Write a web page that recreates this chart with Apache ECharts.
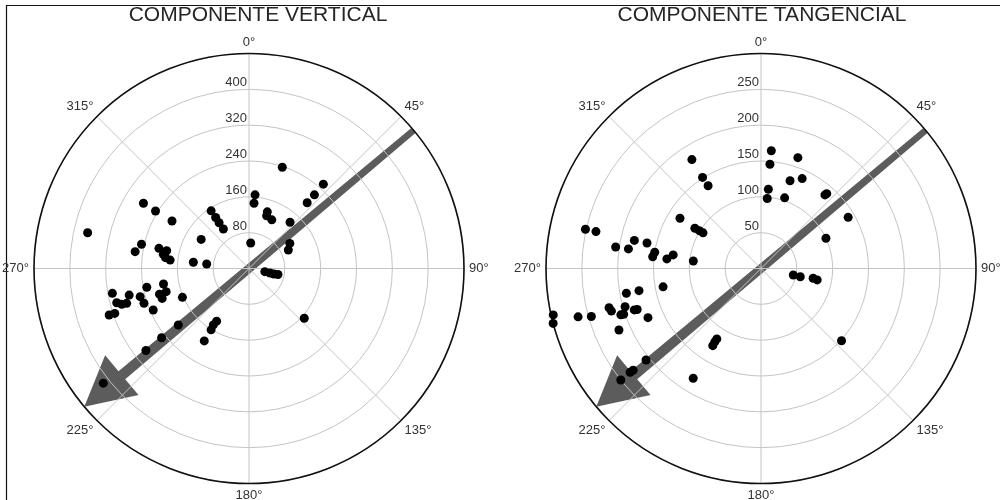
<!DOCTYPE html>
<html>
<head>
<meta charset="utf-8">
<script src="https://cdn.jsdelivr.net/npm/echarts@6/dist/echarts.min.js"></script>
<style>
  html, body { margin: 0; padding: 0; background: #ffffff; }
  #chart { width: 1005px; height: 500px; }
</style>
</head>
<body>
<div id="chart"></div>
<script>
// Titles of the two rose plots
const panelTitles = ['COMPONENTE VERTICAL', 'COMPONENTE TANGENCIAL'];

// Azimuth ring (degrees, clockwise from north)
const azimuthStep = 45;

// Radial scales: ring spacing and outer ring value
const vertRingStep = 80;
const vertRingMax = 480;
const tanRingStep = 50;
const tanRingMax = 300;

// Mean direction of the arrow drawn across each plot (degrees)
const arrowAzimuth = 230;

// COMPONENTE VERTICAL: magnitude and azimuth of each observation
const vertRadius = [
  369, 277, 245, 202, 246, 257, 206, 188, 194, 188,
  177, 125, 95, 125, 154, 136, 122, 105, 57, 165,
  146, 238, 133, 124, 120, 138, 196, 220, 251, 107,
  97, 36, 48, 57, 66, 310, 232, 194, 274, 305,
  295, 284, 251, 247, 208, 205, 192, 233, 162, 329,
  316, 202, 249, 294, 414, 138, 149, 161, 190, 166
];
const vertAzimuth = [
  282.5, 301.7, 301.6, 301.7, 282.7, 278.4, 282.6, 282.2, 279.4, 277.4,
  276.1, 276.4, 276.1, 301.3, 326.7, 326.8, 326.8, 327.0, 3.8, 4.7,
  4.4, 18.2, 17.9, 18.5, 25.1, 41.6, 41.5, 41.6, 41.4, 58.4,
  64.8, 101.3, 102.1, 102.4, 101.7, 259.7, 259.6, 259.7, 257.5, 255.5,
  254.3, 254.1, 255.5, 251.7, 254.0, 251.0, 254.4, 246.6, 246.6, 251.6,
  251.5, 231.4, 231.6, 231.5, 231.8, 211.6, 212.3, 211.7, 211.7, 132.0
];

// COMPONENTE TANGENCIAL: magnitude and azimuth of each observation
const tanRadius = [
  180, 151, 137, 165, 146, 163, 129, 138, 111, 98,
  104, 136, 139, 141, 100, 133, 108, 101, 95, 251,
  236, 205, 181, 187, 163, 150, 152, 132, 124, 95,
  46, 56, 74, 80, 151, 297, 300, 264, 246, 191,
  173, 139, 219, 217, 197, 206, 202, 186, 182, 172,
  216, 205, 228, 233, 250, 180, 116, 121, 127
];
const tanAzimuth = [
  327.6, 327.3, 327.4, 5.0, 4.9, 18.4, 18.3, 24.6, 5.3, 5.1,
  18.5, 41.0, 41.3, 59.6, 65.0, 301.8, 301.3, 301.5, 301.6, 282.6,
  282.6, 278.4, 282.5, 278.4, 282.6, 278.7, 276.2, 275.8, 278.8, 276.3,
  101.4, 101.9, 100.6, 101.5, 131.9, 257.4, 255.2, 255.2, 254.2, 259.6,
  259.7, 259.4, 255.5, 254.1, 254.3, 251.7, 251.6, 251.9, 251.7, 246.5,
  246.6, 231.5, 231.5, 231.6, 231.5, 211.7, 212.1, 212.2, 212.0
];

const FONT = '"Liberation Sans", Arial, Helvetica, sans-serif';
const GRID = '#c4c4c4';

const toPolar = (rs, as) => rs.map((r, i) => [r, as[i]]);

function angleAxisFor(idx) {
  return {
    polarIndex: idx,
    type: 'value',
    min: 0,
    max: 360,
    interval: azimuthStep,
    startAngle: 90,
    clockwise: true,
    z: 3,
    axisLine: { show: true, lineStyle: { color: '#111', width: 1.6 } },
    axisTick: { show: false },
    axisLabel: {
      show: true,
      margin: 5,
      fontSize: 13,
      fontFamily: FONT,
      color: '#333',
      formatter: v => (v >= 360 ? '' : v + '°')
    },
    splitLine: { show: true, lineStyle: { color: GRID, width: 1 } }
  };
}

function radiusAxisFor(idx, step, max) {
  return {
    polarIndex: idx,
    type: 'value',
    min: 0,
    max: max,
    interval: step,
    z: 3,
    axisLine: { show: false },
    axisTick: { show: false },
    axisLabel: {
      show: true,
      margin: 2,
      fontSize: 13,
      fontFamily: FONT,
      color: '#333',
      align: 'right',
      verticalAlign: 'bottom',
      formatter: v => (v === 0 || v >= max ? '' : String(v))
    },
    splitLine: { show: true, lineStyle: { color: GRID, width: 1 } }
  };
}

// Tapered arrow with a triangular head, laid out through the polar scale
function renderArrow(params, api) {
  const r = api.value(0);
  const az = api.value(1);
  const tip = api.coord([r, az]);
  const tail = api.coord([r, az - 180]);
  const dx = tip[0] - tail[0], dy = tip[1] - tail[1];
  const len = Math.hypot(dx, dy);
  const ux = dx / len, uy = dy / len;
  const px = -uy, py = ux;
  const headLen = 49, headHalf = 26, wTail = 3.2, wBase = 5.2;
  const bx = tip[0] - ux * headLen, by = tip[1] - uy * headLen;
  const pts = [
    [tail[0] + px * wTail, tail[1] + py * wTail],
    [bx + px * wBase, by + py * wBase],
    [bx + px * headHalf, by + py * headHalf],
    tip,
    [bx - px * headHalf, by - py * headHalf],
    [bx - px * wBase, by - py * wBase],
    [tail[0] - px * wTail, tail[1] - py * wTail]
  ];
  return { type: 'polygon', shape: { points: pts }, style: { fill: '#5c5c5c' } };
}

const chart = echarts.init(document.getElementById('chart'), null, { renderer: 'canvas' });

chart.setOption({
  animation: false,
  backgroundColor: '#ffffff',
  polar: [
    { center: [249, 268.5], radius: 215 },
    { center: [761, 268.5], radius: 215 }
  ],
  angleAxis: [angleAxisFor(0), angleAxisFor(1)],
  radiusAxis: [
    radiusAxisFor(0, vertRingStep, vertRingMax),
    radiusAxisFor(1, tanRingStep, tanRingMax)
  ],
  graphic: [
    { type: 'line', shape: { x1: 6, y1: 5.5, x2: 1000, y2: 5.5 }, style: { stroke: '#111', lineWidth: 1.2 }, silent: true },
    { type: 'line', shape: { x1: 6.5, y1: 5, x2: 6.5, y2: 500 }, style: { stroke: '#111', lineWidth: 1.2 }, silent: true },
    { type: 'text', x: 258, y: 15, style: { text: panelTitles[0], fill: '#262626', font: '21px ' + FONT, textAlign: 'center', textVerticalAlign: 'middle' }, silent: true },
    { type: 'text', x: 762, y: 15, style: { text: panelTitles[1], fill: '#262626', font: '21px ' + FONT, textAlign: 'center', textVerticalAlign: 'middle' }, silent: true }
  ],
  series: [
    {
      type: 'custom', coordinateSystem: 'polar', polarIndex: 0, z: 2, silent: true,
      renderItem: renderArrow, data: [[vertRingMax, arrowAzimuth]]
    },
    {
      type: 'custom', coordinateSystem: 'polar', polarIndex: 1, z: 2, silent: true,
      renderItem: renderArrow, data: [[tanRingMax, arrowAzimuth]]
    },
    {
      type: 'scatter', coordinateSystem: 'polar', polarIndex: 0, z: 5,
      symbol: 'circle', symbolSize: 9,
      itemStyle: { color: '#000', opacity: 1 },
      data: toPolar(vertRadius, vertAzimuth)
    },
    {
      type: 'scatter', coordinateSystem: 'polar', polarIndex: 1, z: 5,
      symbol: 'circle', symbolSize: 9,
      itemStyle: { color: '#000', opacity: 1 },
      data: toPolar(tanRadius, tanAzimuth)
    }
  ]
});
</script>
</body>
</html>
